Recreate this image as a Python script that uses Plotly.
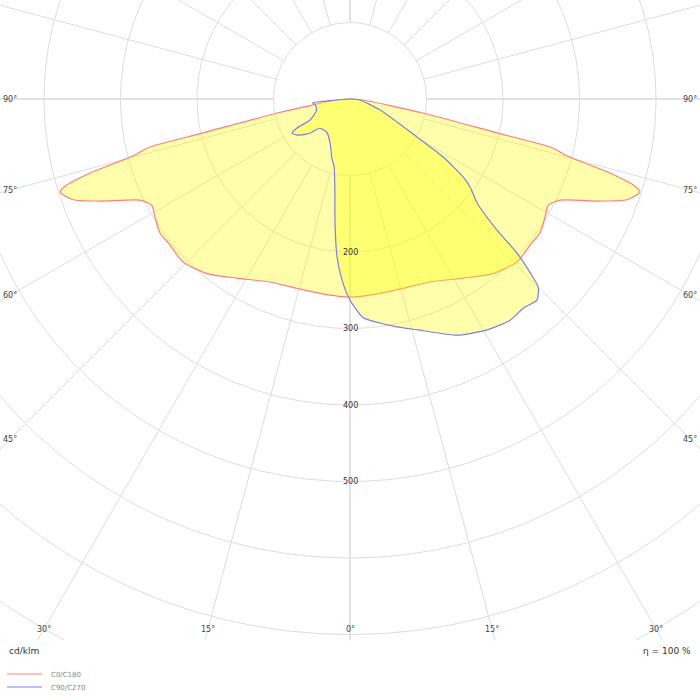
import numpy as np
import plotly.graph_objects as go

# photometric data (gamma in degrees from nadir, cd/klm)
gamma_c0 = [0, 8.8, 15.7, 23.6, 32.3, 39.3, 45.7, 51.6, 54.8, 58.8, 61.8, 64.3,
            67.8, 70.0, 72.2, 73.1, 74.1, 75.2, 76.5, 77.0, 79.1, 85.6, 90]
cdklm_c0 = [259, 257, 257, 261, 277, 295, 305, 303, 304, 298, 294, 305,
            353, 385, 398, 387, 353, 297, 269, 197, 97, 17, 0]

gamma_c90 = [0, 3.4, 6.9, 11.6, 16.2, 24.4, 30.7, 35.9, 39.6, 42.9, 45.0, 46.1,
             47.3, 48.3, 50.7, 53.7, 55.4, 58.1, 60.4, 69.9, 84.3, 90]
cdklm_c90 = [263, 286, 294, 304, 314, 339, 351, 357, 355, 359, 348, 326,
             297, 257, 215, 195, 180, 143, 101, 42, 13, 0]

gamma_c270 = [0, 2.5, 4.7, 6.9, 9.4, 13.2, 17.0, 24.4, 34.9, 46.0, 49.6, 55.8,
              59.6, 61.3, 62.3, 71.6, 80.3, 83.8, 90]
cdklm_c270 = [263, 237, 207, 163, 121, 91, 81, 63, 53, 55, 69, 84,
              88, 79, 59, 46, 46, 49, 0]

ring_values = [100, 200, 300, 400, 500, 600, 700, 800, 900]
ring_labels = [200, 300, 400, 500]
angle_ticks = [0, 15, 30, 45, 60, 75, 90]
spoke_step = 15
eta = 100
series_names = ['C0/C180', 'C90/C270']

# scale: 0.765 px per cd/klm, pole at (350, 99) px
PX = 0.765
X_RANGE = [-350 / PX, 350 / PX]
Y_RANGE = [-(640 - 99) / PX, 99 / PX]


def to_xy(gamma, value, side):
    g = np.radians(np.asarray(gamma, dtype=float))
    v = np.asarray(value, dtype=float)
    return side * v * np.sin(g), -v * np.cos(g)


def closed_curve(g_left, v_left, g_right, v_right):
    xl, yl = to_xy(g_left, v_left, -1)
    xr, yr = to_xy(g_right, v_right, 1)
    return np.concatenate([xl[::-1], xr[1:]]), np.concatenate([yl[::-1], yr[1:]])


fig = go.Figure()

# grid rings
t = np.linspace(0, 2 * np.pi, 721)
gx, gy = [], []
for r in ring_values:
    gx += list(r * np.cos(t)) + [None]
    gy += list(r * np.sin(t)) + [None]
fig.add_trace(go.Scatter(x=gx, y=gy, mode='lines', hoverinfo='skip', showlegend=False,
                         line=dict(color='#dddddd', width=1)))

# spokes
thin_x, thin_y, thick_x, thick_y = [], [], [], []
for a in range(0, 360, spoke_step):
    xs, ys = to_xy([a, a], [ring_values[0], 2000], 1)
    if a % 90 == 0:
        thick_x += list(xs) + [None]
        thick_y += list(ys) + [None]
    else:
        thin_x += list(xs) + [None]
        thin_y += list(ys) + [None]
fig.add_trace(go.Scatter(x=thin_x, y=thin_y, mode='lines', hoverinfo='skip', showlegend=False,
                         line=dict(color='#dddddd', width=1)))
fig.add_trace(go.Scatter(x=thick_x, y=thick_y, mode='lines', hoverinfo='skip', showlegend=False,
                         line=dict(color='#e2e2e2', width=2)))

# light distribution curves
x0, y0 = closed_curve(gamma_c0, cdklm_c0, gamma_c0, cdklm_c0)
fig.add_trace(go.Scatter(x=x0, y=y0, mode='lines', fill='toself', name=series_names[0],
                         fillcolor='rgba(255,255,0,0.33)', showlegend=False, hoverinfo='skip',
                         line=dict(color='rgb(255,125,125)', width=1.2, shape='spline', smoothing=0.6)))
x1, y1 = closed_curve(gamma_c270, cdklm_c270, gamma_c90, cdklm_c90)
fig.add_trace(go.Scatter(x=x1, y=y1, mode='lines', fill='toself', name=series_names[1],
                         fillcolor='rgba(255,255,0,0.33)', showlegend=False, hoverinfo='skip',
                         line=dict(color='rgb(125,125,235)', width=1.2, shape='spline', smoothing=0.6)))

annotations = []
label_font = dict(family='DejaVu Sans', size=8, color='#444444')

# ring value labels on the nadir axis
for r in ring_labels:
    annotations.append(dict(x=0, y=-r, xref='x', yref='y', text=str(r), showarrow=False,
                            font=dict(family='DejaVu Sans', size=8, color='#333333')))

# angle labels where spokes meet the frame
xlim = 340 / PX
ylim = (629 - 99) / PX
for a in angle_ticks:
    g = np.radians(a)
    s, c = np.sin(g), np.cos(g)
    d = min(xlim / s if s > 1e-9 else 1e9, ylim / c if c > 1e-9 else 1e9)
    sides = [1] if a == 0 else [-1, 1]
    for side in sides:
        annotations.append(dict(x=side * d * s, y=-d * c, xref='x', yref='y',
                                text=f'{a}°', showarrow=False, font=label_font))

# bottom texts (paper coords: 700 px figure)
def py(px):
    return 1 - px / 700

annotations.append(dict(x=7 / 700, y=py(651), xref='paper', yref='paper', text='cd/klm',
                        showarrow=False, xanchor='left', yanchor='middle',
                        font=dict(family='DejaVu Sans', size=9, color='#333333')))
annotations.append(dict(x=693 / 700, y=py(651), xref='paper', yref='paper', text=f'η = {eta} %',
                        showarrow=False, xanchor='right', yanchor='middle',
                        font=dict(family='DejaVu Sans', size=9, color='#333333')))

shapes = []
legend_colors = ['rgb(255,190,190)', 'rgb(190,190,255)']
for i, (name, col) in enumerate(zip(series_names, legend_colors)):
    ypx = 674 + 13 * i
    shapes.append(dict(type='line', xref='paper', yref='paper', x0=7 / 700, x1=42 / 700,
                       y0=py(ypx), y1=py(ypx), line=dict(color=col, width=2)))
    annotations.append(dict(x=49 / 700, y=py(ypx + 1), xref='paper', yref='paper', text=name,
                            showarrow=False, xanchor='left', yanchor='middle',
                            font=dict(family='DejaVu Sans', size=7, color='#888888')))

fig.update_layout(
    width=700, height=700,
    margin=dict(l=0, r=0, t=0, b=0),
    paper_bgcolor='white', plot_bgcolor='white',
    xaxis=dict(range=X_RANGE, visible=False, fixedrange=True),
    yaxis=dict(range=Y_RANGE, visible=False, fixedrange=True, domain=[60 / 700, 1]),
    annotations=annotations,
    shapes=shapes,
    showlegend=False,
)

# drop the page's default body margin so the figure sits at the window's corner
fig.write_html('out.html', config={'displayModeBar': False},
               post_script="document.body.style.margin='0';")
